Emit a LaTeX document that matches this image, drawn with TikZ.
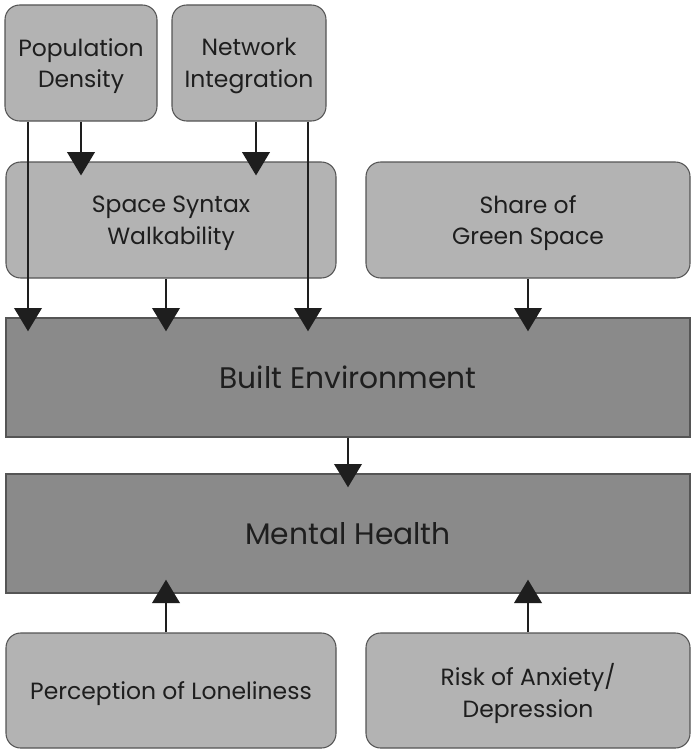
\documentclass[tikz,border=0pt]{standalone}
\usepackage{fontspec}
\setmainfont{Poppins}
\usetikzlibrary{arrows.meta,calc}
\definecolor{lightfill}{HTML}{B3B3B3}
\definecolor{darkfill}{HTML}{8A8A8A}
\definecolor{edgegray}{HTML}{555555}
\definecolor{txt}{HTML}{1E1E1E}
\begin{document}
\begin{tikzpicture}[x=0.75pt,y=-0.75pt,
  lbox/.style={draw=edgegray,line width=0.8pt,fill=lightfill,rounded corners=11pt,
    inner sep=0pt,align=center,text=txt,font=\fontsize{17.6}{23.6}\selectfont,
    text depth=0pt},
  dbox/.style={draw=edgegray,line width=1pt,fill=darkfill,
    inner sep=0pt,align=center,text=txt,font=\fontsize{22.3}{28}\selectfont},
  arr/.style={draw=txt,line width=2pt,-{Triangle[width=20.5pt,length=17.5pt]},shorten >=-10.5pt}]
\useasboundingbox (0,0) rectangle (691,749);
\fill[white] (0,0) rectangle (691,749);
% boxes
\node[lbox,minimum width=152*0.75pt,minimum height=116*0.75pt] (pd) at (81,63) {Population\\Density};
\node[lbox,minimum width=154*0.75pt,minimum height=116*0.75pt] (ni) at (249,63) {Network\\Integration};
\node[lbox,minimum width=330*0.75pt,minimum height=116*0.75pt] (ss) at (171,220) {Space Syntax\\Walkability};
\node[lbox,minimum width=324*0.75pt,minimum height=116*0.75pt] (gs) at (528,220) {Share of\\Green Space};
\node[dbox,minimum width=684*0.75pt,minimum height=119*0.75pt] (be) at (348,377.5) {Built Environment};
\node[dbox,minimum width=684*0.75pt,minimum height=119*0.75pt] (mh) at (348,533.5) {Mental Health};
\node[lbox,minimum width=330*0.75pt,minimum height=115*0.75pt] (pl) at (171,690.5) {Perception of Loneliness};
\node[lbox,minimum width=324*0.75pt,minimum height=115*0.75pt] (ra) at (528,690.5) {Risk of Anxiety/\\Depression};
% named x positions
\coordinate (x28) at (28,0);
\coordinate (x81) at (81,0);
\coordinate (x256) at (256,0);
\coordinate (x308) at (308,0);
\coordinate (x166) at (166,0);
\coordinate (x528) at (528,0);
\coordinate (x348) at (348,0);
% arrows
\draw[arr] (pd.south -| x28) -- (be.north -| x28);
\draw[arr] (pd.south -| x81) -- (ss.north -| x81);
\draw[arr] (ni.south -| x256) -- (ss.north -| x256);
\draw[arr] (ni.south -| x308) -- (be.north -| x308);
\draw[arr] (ss.south -| x166) -- (be.north -| x166);
\draw[arr] (gs.south -| x528) -- (be.north -| x528);
\draw[arr] (be.south -| x348) -- (mh.north -| x348);
\draw[arr] (pl.north -| x166) -- (mh.south -| x166);
\draw[arr] (ra.north -| x528) -- (mh.south -| x528);
\end{tikzpicture}
\end{document}
